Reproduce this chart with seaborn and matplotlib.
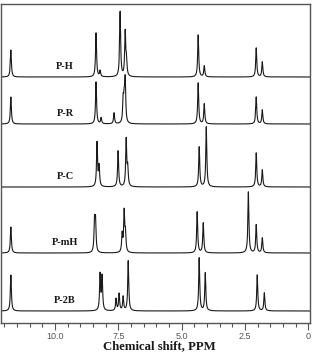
import numpy as np
import pandas as pd
import matplotlib
matplotlib.use("Agg")
import matplotlib.pyplot as plt
import seaborn as sns
from matplotlib.ticker import MultipleLocator, FixedLocator

sns.set_style("white")

# Sample names (top to bottom)
samples = ["P-H", "P-R", "P-C", "P-mH", "P-2B"]

# Peak lists: chemical shift (ppm) and intensity for each sample
ppm_PH = [11.74, 8.38, 8.22, 7.43, 7.23, 7.18, 4.35, 4.11, 2.06, 1.82]
int_PH = [27, 44, 6, 65, 44, 15, 42, 11, 29, 15]

ppm_PR = [11.74, 8.38, 8.18, 7.67, 7.31, 7.27, 7.23, 4.35, 4.11, 2.06, 1.82]
int_PR = [27, 42, 6, 11, 22, 20, 42, 41, 20, 27, 14]

ppm_PC = [8.34, 8.26, 7.51, 7.19, 7.13, 4.31, 4.03, 2.06, 1.82]
int_PC = [44, 20, 36, 47, 18, 40, 60, 34, 17]

ppm_PmH = [11.74, 8.44, 8.40, 7.35, 7.27, 7.22, 4.39, 4.15, 2.37, 2.06, 1.82]
int_PmH = [26, 30, 30, 18, 40, 18, 41, 30, 61, 28, 15]

ppm_P2B = [11.74, 8.22, 8.14, 7.59, 7.47, 7.31, 7.11, 4.31, 4.07, 2.02, 1.74]
int_P2B = [36, 36, 34, 12, 17, 14, 50, 53, 38, 36, 18]

# Vertical stacking offsets of the baselines
offsets = [246, 199, 136, 70, 12]

peak_lists = [(ppm_PH, int_PH), (ppm_PR, int_PR), (ppm_PC, int_PC),
              (ppm_PmH, int_PmH), (ppm_P2B, int_P2B)]

xmin, xmax = 12.13, -0.06
x = np.linspace(xmax, xmin, 8000)
hw = 0.024

def spectrum(pp, ii):
    y = np.zeros_like(x)
    for p, h in zip(pp, ii):
        y += h * hw**2 / ((x - p)**2 + hw**2)
    return y

fig = plt.figure(figsize=(3.12, 3.53), dpi=100)
ax = fig.add_axes([1/312, 30/353, 309/312, 319/353])

for name, (pp, ii), off in zip(samples, peak_lists, offsets):
    df = pd.DataFrame({"ppm": x, "I": spectrum(pp, ii) + off})
    sns.lineplot(data=df, x="ppm", y="I", ax=ax, color="#1a1a1a", lw=0.8,
                 estimator=None, sort=False)
    ax.text(9.6, off + 6, name, ha="center", va="bottom",
            fontfamily="Liberation Serif", fontweight="bold", fontsize=7.5,
            color="#1a1a1a")

ax.set_xlim(xmin, xmax)
ax.set_ylim(0, 319)
ax.set_yticks([])
ax.set_ylabel("")
ax.set_xlabel("")
ax.xaxis.set_major_locator(FixedLocator([10, 7.5, 5, 2.5, 0]))
ax.set_xticklabels(["10.0", "7.5", "5.0", "2.5", "0"])
ax.xaxis.set_minor_locator(MultipleLocator(0.5))
ax.tick_params(axis="x", which="major", direction="out", length=5, width=0.8,
               colors="#555555", labelsize=6.5, pad=1.5, bottom=True)
ax.tick_params(axis="x", which="minor", direction="out", length=3, width=0.8,
               colors="#555555", bottom=True)
for lab in ax.get_xticklabels():
    lab.set_fontfamily("Liberation Sans")
    lab.set_color("#555555")
fig.text(159/312, 0.5/353, "Chemical shift, PPM", ha="center", va="bottom",
         fontfamily="Liberation Serif", fontweight="bold", fontsize=9.2,
         color="#1a1a1a")
for s in ax.spines.values():
    s.set_color("#555555")
    s.set_linewidth(1.0)

fig.savefig("out.png", dpi=100)
